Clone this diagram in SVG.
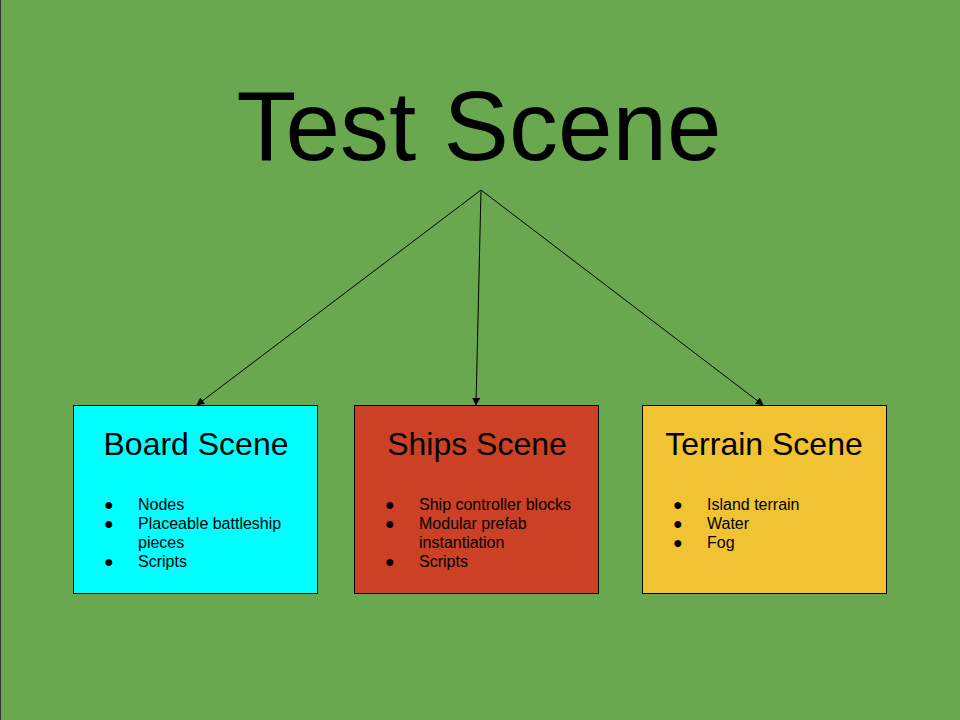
<svg xmlns="http://www.w3.org/2000/svg" width="960" height="720" viewBox="0 0 960 720">
<defs>
<marker id="ah" viewBox="0 0 10 10" refX="9" refY="5" markerWidth="8" markerHeight="8" markerUnits="userSpaceOnUse" orient="auto">
<path d="M0,0 L10,5 L0,10 z" fill="#000"/>
</marker>
<style>
text{font-family:"Liberation Sans",Arial,sans-serif;fill:#000}
.box{stroke:#000;stroke-width:1}
.h{font-size:32px;text-anchor:middle}
.b{font-size:16px}
.c{stroke:#000;stroke-width:1;fill:none;marker-end:url(#ah)}
</style>
</defs>
<rect x="0" y="0" width="960" height="720" fill="#6aa84f"/>
<line x1="0.5" y1="0" x2="0.5" y2="720" stroke="#333" stroke-width="1"/>
<g id="title"><text x="479" y="160" font-size="98" text-anchor="middle">Test Scene</text></g>
<g id="connectors">
<line class="c" x1="481" y1="190" x2="197" y2="405"/>
<line class="c" x1="481" y1="190" x2="476" y2="405"/>
<line class="c" x1="481" y1="190" x2="763" y2="405"/>
</g>
<g id="board">
<rect class="box" x="73.5" y="405.5" width="244" height="188" fill="#00ffff"/>
<text class="h" x="196" y="455">Board Scene</text>
<g class="b">
<text x="104" y="510">●</text><text x="138" y="510">Nodes</text>
<text x="104" y="529">●</text><text x="138" y="529">Placeable battleship</text>
<text x="138" y="548">pieces</text>
<text x="104" y="567">●</text><text x="138" y="567">Scripts</text>
</g>
</g>
<g id="ships">
<rect class="box" x="354.5" y="405.5" width="244" height="188" fill="#cc4125"/>
<text class="h" x="477" y="455">Ships Scene</text>
<g class="b">
<text x="385" y="510">●</text><text x="419" y="510">Ship controller blocks</text>
<text x="385" y="529">●</text><text x="419" y="529">Modular prefab</text>
<text x="419" y="548">instantiation</text>
<text x="385" y="567">●</text><text x="419" y="567">Scripts</text>
</g>
</g>
<g id="terrain">
<rect class="box" x="642.5" y="405.5" width="244" height="188" fill="#f1c232"/>
<text class="h" x="764" y="455">Terrain Scene</text>
<g class="b">
<text x="673" y="510">●</text><text x="707" y="510">Island terrain</text>
<text x="673" y="529">●</text><text x="707" y="529">Water</text>
<text x="673" y="548">●</text><text x="707" y="548">Fog</text>
</g>
</g>
</svg>
